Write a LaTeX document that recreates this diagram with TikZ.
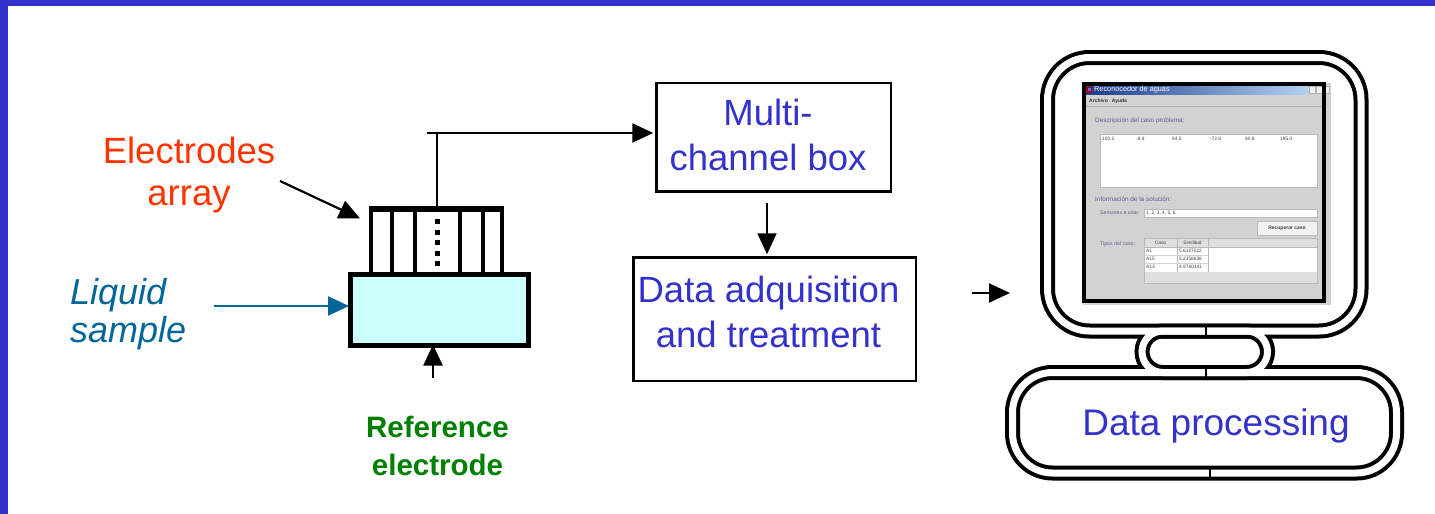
\documentclass[tikz,border=0pt]{standalone}
\usepackage{fontspec}
\setmainfont{Liberation Sans}
\usetikzlibrary{arrows.meta,calc}

\definecolor{frameblue}{HTML}{3333CC}
\definecolor{labelorange}{HTML}{FF3300}
\definecolor{sampleblue}{HTML}{006699}
\definecolor{refgreen}{HTML}{008000}
\definecolor{liquidfill}{HTML}{CCFFFF}
\definecolor{wingray}{HTML}{D2D2D2}
\definecolor{winlabel}{HTML}{5E5E94}
\definecolor{titledark}{HTML}{1A3A8A}
\definecolor{titlelight}{HTML}{B4D2F2}

\begin{document}
\begin{tikzpicture}[x=1pt,y=-1pt,
  arr/.style={line width=2.2pt,-{Triangle[length=21pt,width=19pt]}},
  box/.style={draw,line width=2.5pt,rectangle,inner sep=0pt,outer sep=0pt},
  bluetext/.style={font=\fontsize{36.5}{45}\selectfont,text=frameblue,align=center,inner sep=0pt,anchor=north},
  outerstroke/.style={draw=black,line width=15pt},
  innercore/.style={draw=white,line width=7pt},
  seam/.style={draw=black,line width=2.5pt},
  winlbl/.style={anchor=west,inner sep=0pt,font=\fontsize{6.4}{7}\selectfont,text=winlabel},
  winsmall/.style={anchor=west,inner sep=0pt,font=\fontsize{5.2}{6}\selectfont,text=winlabel},
  winnum/.style={anchor=west,inner sep=0pt,font=\fontsize{4.8}{5}\selectfont,text=black!75},
  winfield/.style={fill=white,draw=gray!55,line width=0.5pt}
]
\useasboundingbox (0,0) rectangle (1435,514);

% slide frame bands
\fill[frameblue] (0,0) rectangle (1435,6);
\fill[frameblue] (0,0) rectangle (8,514);

% ---------- sensor: liquid cell with electrode array ----------
\node[draw,line width=5pt,fill=liquidfill,minimum width=178pt,minimum height=71pt,
      inner sep=0pt,outer sep=0pt] (liq) at (439.5,310) {};
\foreach \bx in {371.3,392,415,460,483,502}
  \draw[line width=4pt] (\bx,209) -- (\bx,272);
\draw[line width=6pt] (369,209) -- (504,209);
\draw[line width=5pt,dash pattern=on 5pt off 5.5pt] (437,219) -- (437,268);

% labels
\node[font=\fontsize{36.5}{42}\selectfont,text=labelorange,align=center,inner sep=0pt,anchor=north]
  (electrodes) at (189,136.5) {Electrodes\\array};
\node[font=\fontsize{36}{38}\selectfont\itshape,text=sampleblue,align=left,inner sep=0pt,anchor=north west]
  (sample) at (70,278.5) {Liquid\\sample};
\node[font=\fontsize{29.5}{38}\selectfont\bfseries,text=refgreen,align=center,inner sep=0pt,anchor=north]
  (refel) at (437.5,415.5) {Reference\\electrode};

% ---------- processing chain ----------
\node[box,minimum width=234.5pt,minimum height=108.5pt] (mcb) at (773.5,137.25) {};
\node[bluetext] (mcbtext) at (768,98.5) {Multi-\\channel box};
\node[box,minimum width=282.5pt,minimum height=123.5pt] (dat) at (774.5,319) {};
\node[bluetext] (dattext) at (768.5,275.5) {Data adquisition\\and treatment};

% connectors
\coordinate (arraytop) at (437,206);
\coordinate (wirecorner) at (437,133);
\coordinate (wirestart) at (427,133);
\draw[line width=2.5pt] (arraytop) -- (wirecorner);
\draw[arr,shorten >=3pt] (wirestart) -- (wirestart -| mcb.west);

\coordinate (elsrc) at (280,181);
\coordinate (eltip) at (360,218.5);
\draw[arr] (elsrc) -- (eltip);

\coordinate (lsrc) at (214,306);
\draw[arr,sampleblue,shorten >=1.5pt] (lsrc) -- (lsrc -| liq.west);

\coordinate (rsrc) at (433,378);
\draw[arr,shorten >=-1pt] (rsrc) -- (rsrc |- liq.south);

\coordinate (dsrc) at (767,203);
\draw[arr,shorten >=3pt] (dsrc) -- (dsrc |- dat.north);

\coordinate (psrc) at (972,293);
\coordinate (ptip) at (1010,293);
\draw[arr] (psrc) -- (ptip);

% ---------- computer: monitor, neck and base in double outline ----------
\draw[outerstroke,rounded corners=42pt] (1047.5,57.5) rectangle (1361,331);
\draw[outerstroke,rounded corners=20.75pt] (1142,331) rectangle (1267.5,372.5);
\draw[outerstroke,rounded corners=40pt] (1012.5,372.5) rectangle (1396.5,473);
\draw[innercore,rounded corners=42pt] (1047.5,57.5) rectangle (1361,331);
\draw[innercore,rounded corners=20.75pt] (1142,331) rectangle (1267.5,372.5);
\draw[innercore,rounded corners=40pt] (1012.5,372.5) rectangle (1396.5,473);
\draw[seam] (1206,325.5) -- (1206,336.5);
\draw[seam] (1206,367) -- (1206,378);
\draw[seam] (1210,467.5) -- (1210,478.5);

\node[font=\fontsize{37}{44}\selectfont,text=frameblue,inner sep=0pt,anchor=base]
  (dptext) at (1216,435) {Data processing};

% ---------- application window on the screen ----------
\fill[wingray] (1083,83) rectangle (1331,305);
\shade[left color=titledark,right color=titlelight] (1084,85.5) rectangle (1308,94);
\fill[red!65!black] (1086,86.5) rectangle (1092,92.5);
\fill[blue!60] (1087.5,88) rectangle (1090.5,91);
\node[anchor=west,inner sep=0pt,text=white,font=\fontsize{7.3}{8}\selectfont] (title) at (1094,90) {Reconocedor de aguas};
\foreach \wx in {1309,1316,1323}
  \filldraw[fill=gray!12,draw=gray!60,line width=0.4pt] (\wx,86.5) rectangle +(6,6.5);
\node[anchor=west,inner sep=0pt,text=black!80,font=\fontsize{5}{6}\selectfont\bfseries] (menu) at (1089,101) {Archivo\hspace{4pt}Ayuda};
\draw[gray!60,line width=0.5pt] (1084,106) -- (1324,106);

\node[winlbl] (desc) at (1095,121) {Descripción del caso problema:};
\filldraw[winfield] (1100,134) rectangle (1317,187);
\node[winnum] (v1) at (1102,139) {100.2};
\node[winnum] (v2) at (1136,139) {-8.8};
\node[winnum] (v3) at (1172,139) {84.5};
\node[winnum] (v4) at (1210,139) {-72.8};
\node[winnum] (v5) at (1245,139) {80.8};
\node[winnum] (v6) at (1280,139) {195.0};

\node[winlbl] (info) at (1095,199) {Información de la solución:};
\node[winsmall] (sens) at (1100,213) {Sensores a usar:};
\filldraw[winfield] (1144,209) rectangle (1317,217);
\node[winnum] (sensval) at (1146,213) {1, 2, 3, 4, 5, 6};

\filldraw[fill=gray!10,draw=gray!55,line width=0.5pt] (1257,221) rectangle (1317,235);
\node[inner sep=0pt,text=black!75,font=\fontsize{5}{6}\selectfont\bfseries] (recup) at (1287,228) {Recuperar caso};

\node[winsmall] (tipos) at (1100,244) {Tipos del caso:};
\filldraw[fill=gray!25,draw=gray!55,line width=0.5pt] (1144,238) rectangle (1317,283);
\fill[white] (1144.5,247.5) rectangle (1316.5,272);
\draw[gray!55,line width=0.5pt] (1144,247) -- (1317,247);
\draw[gray!55,line width=0.5pt] (1177,238) -- (1177,272);
\draw[gray!55,line width=0.5pt] (1208,238) -- (1208,272);
\draw[gray!35,line width=0.3pt] (1144,255) -- (1208,255);
\draw[gray!35,line width=0.3pt] (1144,263) -- (1208,263);
\node[winnum,anchor=center] (hcaso) at (1160.5,242.5) {Caso};
\node[winnum,anchor=center] (hsim) at (1192.5,242.5) {Similitud};
\node[winnum] (r1a) at (1146,251.2) {A1};
\node[winnum] (r1b) at (1179,251.2) {5.6127022};
\node[winnum] (r2a) at (1146,259.2) {A15};
\node[winnum] (r2b) at (1179,259.2) {5.2358638};
\node[winnum] (r3a) at (1146,267.2) {A13};
\node[winnum] (r3b) at (1179,267.2) {4.9760341};

% screen bezel
\draw[line width=4pt] (1084,84) rectangle (1324,301);

\end{tikzpicture}
\end{document}
